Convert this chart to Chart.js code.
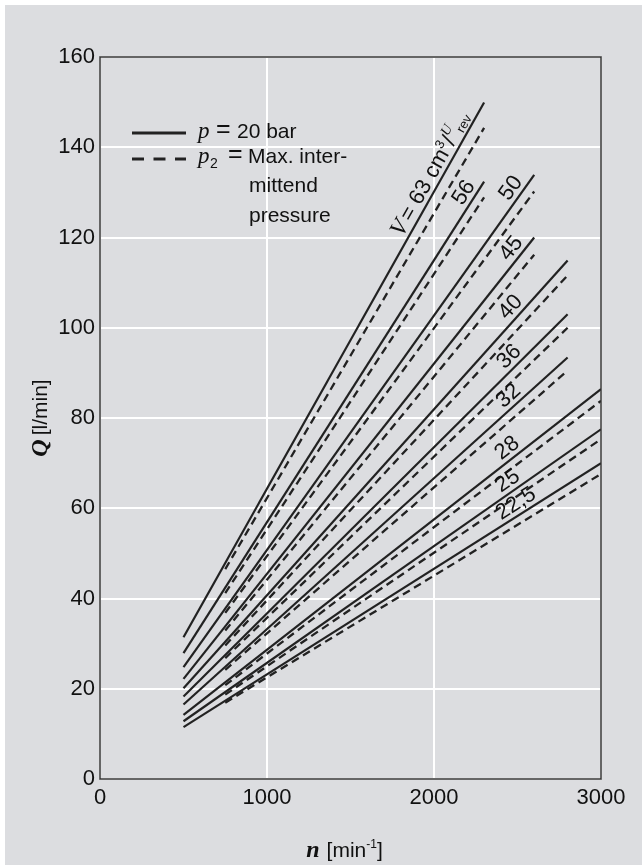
<!DOCTYPE html>
<html><head><meta charset="utf-8">
<script src="https://cdn.jsdelivr.net/npm/chart.js@4.4.0/dist/chart.umd.min.js"></script>
<style>
html,body{margin:0;padding:0;background:#fff;}
#bg{position:absolute;left:5px;top:5px;width:637px;height:860px;background:#dcdde0;}
#wrap{position:absolute;left:0;top:0;width:642px;height:868px;}
</style></head><body>
<div id="bg"></div>
<div id="wrap"><canvas id="c" width="642" height="868"></canvas></div>
<script>
// ---- data ----
const volumes    = ['63','56','50','45','40','36','32','28','25','22,5'];
const nStart     = 500;
const nEnd       = [2300, 2300, 2600, 2600, 2800, 2800, 2800, 3000, 3000, 3000];
const qSolidStart= [31.4, 27.9, 24.8, 22.2, 20.1, 18.3, 16.5, 14.2, 12.8, 11.5];
const qSolidEnd  = [149.9,132.4,133.9,120.0,114.9,103.0, 93.4, 86.4, 77.5, 70.0];
const nDashStart = 750;
const qDashStart = [46.5, 41.2, 36.8, 32.9, 29.6, 26.8, 24.2, 20.8, 18.7, 16.9];
const qDashEnd   = [144.3,128.9,130.2,116.2,111.6,100.0, 90.5, 83.8, 75.3, 67.6];
const xTicks = [0, 1000, 2000, 3000];
const yTicks = [0, 20, 40, 60, 80, 100, 120, 140, 160];

// label anchors (speed along each solid line where its label sits)
const labelAt = [2040, 2235, 2515, 2515, 2509, 2497, 2491, 2479, 2479, 2527];

const INK = '#222';
const datasets = [];
volumes.forEach((v, i) => {
  datasets.push({label: v + ' solid', data: [{x: nStart, y: qSolidStart[i]}, {x: nEnd[i], y: qSolidEnd[i]}],
    borderColor: INK, borderWidth: 2.2, pointRadius: 0, fill: false, tension: 0});
  datasets.push({label: v + ' dashed', data: [{x: nDashStart, y: qDashStart[i]}, {x: nEnd[i], y: qDashEnd[i]}],
    borderColor: INK, borderWidth: 2.3, borderDash: [8, 5], pointRadius: 0, fill: false, tension: 0});
});

const SANS = '"Liberation Sans", Arial, sans-serif';
const SERIF = '"Liberation Serif", "Times New Roman", serif';

function pieces(ctx, parts, x, y) {
  let cx = x;
  parts.forEach(p => {
    ctx.font = p.f;
    ctx.fillText(p.t, cx, y + (p.dy || 0));
    cx += ctx.measureText(p.t).width + (p.sp || 0);
  });
  return cx;
}
function widthOf(ctx, parts) {
  let w = 0;
  parts.forEach(p => { ctx.font = p.f; w += ctx.measureText(p.t).width + (p.sp || 0); });
  return w;
}

const deco = {
  id: 'deco',
  afterDatasetsDraw(chart) {
    const ctx = chart.ctx, a = chart.chartArea;
    const xs = chart.scales.x, ys = chart.scales.y;
    ctx.save();
    // frame
    ctx.strokeStyle = '#333'; ctx.lineWidth = 1.5; ctx.setLineDash([]);
    ctx.strokeRect(a.left, a.top, a.right - a.left, a.bottom - a.top);

    ctx.fillStyle = '#111'; ctx.textBaseline = 'alphabetic'; ctx.textAlign = 'left';
    // legend
    ctx.strokeStyle = INK; ctx.lineWidth = 3;
    ctx.beginPath(); ctx.moveTo(132, 133); ctx.lineTo(186, 133); ctx.stroke();
    ctx.setLineDash([12, 9.5]);
    ctx.beginPath(); ctx.moveTo(132, 159); ctx.lineTo(186, 159); ctx.stroke();
    ctx.setLineDash([]);
    ctx.font = 'italic 23px ' + SERIF;
    ctx.fillText('p', 198, 138);
    ctx.fillText('p', 198, 163);
    ctx.font = '14px ' + SANS;
    ctx.fillText('2', 210, 168);
    ctx.font = '25px ' + SANS;
    ctx.fillText('=', 216, 137);
    ctx.fillText('=', 228, 162);
    ctx.font = '21px ' + SANS;
    ctx.fillText('20 bar', 237, 138);
    ctx.fillText('Max. inter-', 248, 163);
    ctx.fillText('mittend', 249, 192);
    ctx.fillText('pressure', 249, 222);

    // line labels along the solid lines
    volumes.forEach((v, i) => {
      const n = labelAt[i];
      const q = qSolidStart[i] + (qSolidEnd[i] - qSolidStart[i]) * (n - nStart) / (nEnd[i] - nStart);
      const px = xs.getPixelForValue(n), py = ys.getPixelForValue(q);
      const ang = Math.atan2(ys.getPixelForValue(qSolidEnd[i]) - ys.getPixelForValue(qSolidStart[i]),
                             xs.getPixelForValue(nEnd[i]) - xs.getPixelForValue(nStart));
      ctx.save();
      ctx.translate(px, py); ctx.rotate(ang);
      ctx.fillStyle = '#111';
      let parts;
      if (i === 0) {
        parts = [
          {t: 'V', f: 'italic 24px ' + SERIF, sp: 3},
          {t: '= 63 cm', f: '22px ' + SANS},
          {t: '3', f: '13px ' + SANS, dy: -9, sp: 1},
          {t: '/', f: '22px ' + SANS},
          {t: 'U', f: 'italic 14px ' + SERIF, dy: -10},
          {t: 'rev', f: '13px ' + SANS, dy: 2}];
      } else {
        parts = [{t: v, f: '22px ' + SANS}];
      }
      const w = widthOf(ctx, parts);
      ctx.textAlign = 'left';
      pieces(ctx, parts, -w / 2, -5);
      ctx.restore();
    });

    // axis titles
    ctx.fillStyle = '#111';
    const xp = [
      {t: 'n', f: 'bold italic 24px ' + SERIF, sp: 7},
      {t: '[min', f: '21px ' + SANS},
      {t: '-1', f: '12px ' + SANS, dy: -9},
      {t: ']', f: '21px ' + SANS}];
    const xw = widthOf(ctx, xp);
    const xc = (a.left + a.right) / 2;
    pieces(ctx, xp, xc - xw / 2 - 6, 857);

    ctx.save();
    ctx.translate(47, (a.top + a.bottom) / 2);
    ctx.rotate(-Math.PI / 2);
    const yp = [
      {t: 'Q', f: 'bold italic 24px ' + SERIF, sp: 4},
      {t: '[l/min]', f: '21px ' + SANS}];
    const yw = widthOf(ctx, yp);
    pieces(ctx, yp, -yw / 2, 0);
    ctx.restore();

    ctx.restore();
  }
};

const tickFont = {family: SANS, size: 22};
new Chart(document.getElementById('c'), {
  type: 'line',
  data: {datasets},
  options: {
    responsive: false, animation: false, devicePixelRatio: 1,
    layout: {padding: {top: 57, right: 41, left: 0, bottom: 0}},
    plugins: {legend: {display: false}, tooltip: {enabled: false}},
    scales: {
      x: {type: 'linear', min: 0, max: 3000,
        afterBuildTicks: s => { s.ticks = xTicks.map(v => ({value: v})); },
        afterFit: s => { s.height = 89; },
        ticks: {font: tickFont, color: '#111', padding: 6, maxRotation: 0, callback: v => String(v)},
        grid: {color: '#fff', lineWidth: 2, drawTicks: false},
        border: {display: false}},
      y: {type: 'linear', min: 0, max: 160,
        afterBuildTicks: s => { s.ticks = yTicks.map(v => ({value: v})); },
        afterFit: s => { s.width = 100; },
        ticks: {font: tickFont, color: '#111', padding: 5, callback: v => String(v)},
        grid: {color: '#fff', lineWidth: 2, drawTicks: false},
        border: {display: false}}
    }
  },
  plugins: [deco]
});
</script>
</body></html>
